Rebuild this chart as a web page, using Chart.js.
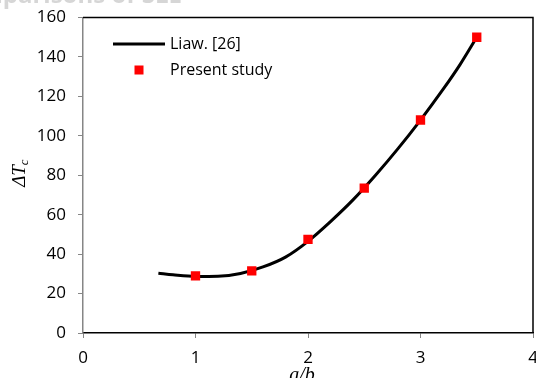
<!DOCTYPE html>
<html>
<head>
<meta charset="utf-8">
<script src="https://cdn.jsdelivr.net/npm/chart.js@4"></script>
<style>
  html, body { margin: 0; padding: 0; background: #fff; }
  #wrap { position: relative; width: 536px; height: 378px; overflow: hidden; }
</style>
</head>
<body>
<div id="wrap"><canvas id="c" width="536" height="378"></canvas></div>
<script>
// Liaw. [26] curve
const liawX = [0.67, 0.8, 1.0, 1.2, 1.4, 1.6, 1.8, 2.0, 2.2, 2.4, 2.6, 2.8, 3.0, 3.2, 3.35, 3.5];
const liawY = [30.3, 29.5, 28.7, 28.8, 30.2, 33.5, 38.5, 46.5, 56.5, 67.5, 80, 93.5, 108, 123.5, 136, 150];
// Present study points
const presentX = [1, 1.5, 2, 2.5, 3, 3.5];
const presentY = [29, 31.5, 47.5, 73.5, 108, 150];
// Axis ticks
const xTicks = [0, 1, 2, 3, 4];
const yTicks = [0, 20, 40, 60, 80, 100, 120, 140, 160];
const seriesLabels = ['Liaw. [26]', 'Present study'];
const titleText = 'Comparisons of SLE';

const FONT = '"Open Sans", "Liberation Sans", sans-serif';

const extras = {
  id: 'extras',
  afterDraw(chart) {
    const ctx = chart.ctx;
    const a = chart.chartArea;
    ctx.save();
    // frame: top & right black
    ctx.strokeStyle = '#000';
    ctx.lineWidth = 1.5;
    ctx.beginPath();
    ctx.moveTo(a.left, a.top);
    ctx.lineTo(a.right, a.top);
    ctx.lineTo(a.right, a.bottom);
    ctx.stroke();

    // faint cut-off title
    ctx.fillStyle = '#d6d6d6';
    ctx.font = 'bold 24px ' + FONT;
    ctx.textAlign = 'right';
    ctx.textBaseline = 'alphabetic';
    ctx.fillText(titleText, 182, 3);

    // legend
    ctx.strokeStyle = '#000';
    ctx.lineWidth = 3;
    ctx.beginPath();
    ctx.moveTo(113, 44);
    ctx.lineTo(165, 44);
    ctx.stroke();
    ctx.fillStyle = '#ff0000';
    ctx.fillRect(134.5, 65.5, 9, 9);
    ctx.fillStyle = '#000';
    ctx.font = '16px ' + FONT;
    ctx.textAlign = 'left';
    ctx.textBaseline = 'middle';
    ctx.fillText(seriesLabels[0], 170, 44);
    ctx.fillText(seriesLabels[1], 170, 70);

    // y-axis title  ΔT_c
    ctx.save();
    ctx.translate(20, 172);
    ctx.rotate(-Math.PI / 2);
    ctx.font = 'italic 19px "Liberation Serif", "DejaVu Serif", serif';
    ctx.textAlign = 'left';
    ctx.textBaseline = 'middle';
    const w = ctx.measureText('ΔT').width;
    ctx.fillText('ΔT', -w / 2 - 4, 0);
    ctx.font = 'italic 13px "Liberation Serif", "DejaVu Serif", serif';
    ctx.fillText('c', w / 2 - 4, 5);
    ctx.restore();

    // x-axis title a/b
    ctx.font = 'italic 20px "Liberation Serif", "DejaVu Serif", serif';
    ctx.textAlign = 'center';
    ctx.textBaseline = 'alphabetic';
    ctx.fillText('a/b', 302, 381);
    ctx.restore();
  }
};

new Chart(document.getElementById('c'), {
  type: 'scatter',
  data: {
    datasets: [
      {
        label: seriesLabels[0],
        data: liawX.map((x, i) => ({ x, y: liawY[i] })),
        showLine: true,
        borderColor: '#000',
        borderWidth: 3,
        pointRadius: 0,
        cubicInterpolationMode: 'monotone',
        order: 2
      },
      {
        label: seriesLabels[1],
        data: presentX.map((x, i) => ({ x, y: presentY[i] })),
        showLine: false,
        pointStyle: 'rect',
        pointRadius: 6.6,
        pointHoverRadius: 6.6,
        backgroundColor: '#ff0000',
        borderColor: '#ff0000',
        borderWidth: 0,
        order: 1
      }
    ]
  },
  options: {
    responsive: false,
    animation: false,
    devicePixelRatio: 1,
    layout: { autoPadding: false, padding: { left: 0, top: 17.5, right: 3, bottom: 0 } },
    plugins: { legend: { display: false }, tooltip: { enabled: false }, title: { display: false } },
    scales: {
      x: {
        type: 'linear',
        min: xTicks[0], max: xTicks[xTicks.length - 1],
        afterBuildTicks: s => { s.ticks = xTicks.map(v => ({ value: v })); },
        afterFit: s => { s.height = 45; s.paddingLeft = 0; s.paddingRight = 0; },
        ticks: { color: '#000', font: { family: FONT, size: 17 }, padding: 10 },
        grid: { drawOnChartArea: false, drawTicks: true, tickLength: 5, color: '#868686' },
        border: { color: '#000', width: 1.5 }
      },
      y: {
        type: 'linear',
        min: yTicks[0], max: yTicks[yTicks.length - 1],
        afterBuildTicks: s => { s.ticks = yTicks.map(v => ({ value: v })); },
        afterFit: s => { s.width = 83; s.paddingTop = 0; s.paddingBottom = 0; },
        ticks: { color: '#000', font: { family: FONT, size: 17 }, padding: 12 },
        grid: { drawOnChartArea: false, drawTicks: true, tickLength: 5, color: '#868686' },
        border: { color: '#868686', width: 1.5 }
      }
    }
  },
  plugins: [extras]
});
</script>
</body>
</html>
